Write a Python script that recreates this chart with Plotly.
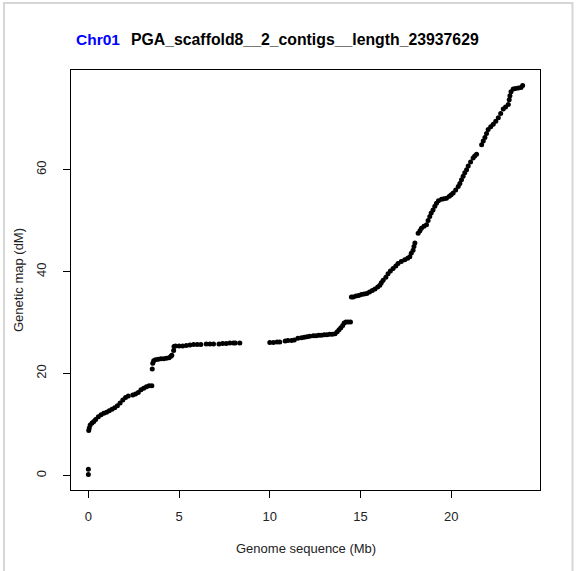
import plotly.graph_objects as go

# ---------------- data ----------------
pos_mb = [
    0.0, 0.0,
    0.02, 0.05, 0.1, 0.2, 0.3, 0.4, 0.55, 0.7, 0.85, 1.0, 1.15, 1.3, 1.45, 1.6, 1.75, 1.9,
    2.05, 2.2, 2.45, 2.6, 2.75, 2.9, 3.05, 3.2, 3.35, 3.5,
    3.52, 3.55, 3.6, 3.7, 3.85, 4.0, 4.15, 4.3, 4.45, 4.55, 4.6, 4.7, 4.72,
    4.8, 5.0, 5.2, 5.4, 5.6, 5.8, 6.0, 6.2, 6.5, 6.7, 6.9, 7.2, 7.4, 7.6, 7.8, 8.0, 8.1, 8.35,
    10.0, 10.2, 10.4, 10.55, 10.85, 11.0, 11.2, 11.35, 11.55, 11.75, 11.9, 12.05, 12.2, 12.4,
    12.55, 12.7, 12.85, 13.0, 13.15, 13.3, 13.45, 13.6, 13.72, 13.82, 13.92, 14.02, 14.1,
    14.2, 14.32, 14.45,
    14.5, 14.6, 14.75, 14.9, 15.05, 15.2, 15.35, 15.5, 15.65, 15.8, 15.95, 16.07, 16.15,
    16.25, 16.4, 16.52, 16.65, 16.8, 16.95, 17.07, 17.25, 17.44, 17.6, 17.72, 17.8, 17.9,
    17.95, 18.0,
    18.18, 18.28, 18.36, 18.5, 18.64, 18.73, 18.82, 18.9, 19.0, 19.1, 19.19, 19.3, 19.47,
    19.6, 19.74, 19.9, 20.0, 20.11, 20.25, 20.39, 20.48, 20.57, 20.66, 20.75, 20.85, 20.94,
    21.07, 21.21, 21.3, 21.4,
    21.68, 21.77, 21.86, 21.95, 22.04, 22.18, 22.32, 22.46, 22.6, 22.73, 22.87, 23.0, 23.15,
    23.2, 23.24, 23.3, 23.42, 23.55, 23.7, 23.85, 23.94,
]
map_cm = [
    0.2, 1.2,
    8.8, 9.3, 9.9, 10.3, 10.6, 11.0, 11.5, 11.9, 12.2, 12.4, 12.7, 13.0, 13.3, 13.7, 14.2, 14.8,
    15.3, 15.6, 15.8, 16.0, 16.3, 16.8, 17.1, 17.4, 17.6, 17.6,
    20.9, 22.0, 22.5, 22.7, 22.8, 22.9, 22.9, 23.0, 23.1, 23.4, 23.6, 24.5, 25.3,
    25.4, 25.4, 25.4, 25.5, 25.6, 25.7, 25.7, 25.7, 25.8, 25.8, 25.8, 25.8, 25.9, 25.9, 26.0, 26.0, 26.0, 26.0,
    26.1, 26.1, 26.2, 26.2, 26.4, 26.5, 26.5, 26.6, 26.9, 27.0, 27.1, 27.2, 27.3, 27.4,
    27.4, 27.5, 27.5, 27.6, 27.6, 27.7, 27.7, 27.8, 28.2, 28.6, 29.0, 29.4, 29.9,
    30.1, 30.1, 30.1,
    35.0, 35.0, 35.2, 35.3, 35.5, 35.6, 35.7, 36.0, 36.3, 36.6, 37.0, 37.3, 37.8,
    38.3, 38.9, 39.6, 40.1, 40.6, 41.1, 41.6, 42.0, 42.3, 42.6, 42.9, 43.6, 44.2,
    44.9, 45.6,
    47.5, 48.0, 48.5, 48.9, 49.2, 50.0, 50.8, 51.5, 52.1, 52.8, 53.4, 53.9, 54.2,
    54.3, 54.4, 54.8, 55.1, 55.4, 56.0, 56.7, 57.3, 58.0, 58.7, 59.4, 60.0, 60.7,
    61.5, 62.3, 62.7, 63.0,
    64.9, 65.6, 66.3, 67.1, 67.9, 68.4, 68.9, 69.5, 70.2, 71.0, 71.9, 72.3, 72.8,
    73.7, 74.5, 75.3, 75.8, 75.9, 76.0, 76.1, 76.5,
]
x_ticks = [0, 5, 10, 15, 20]
y_ticks = [0, 20, 40, 60]
chr_name = "Chr01"
scaffold_name = "PGA_scaffold8__2_contigs__length_23937629"
x_title = "Genome sequence (Mb)"
y_title = "Genetic map (dM)"

# ---------------- layout geometry ----------------
W, H = 576, 571
ML, MR, MT, MB = 71, 36, 70, 81
PW, PH = W - ML - MR, H - MT - MB
FONT = "Liberation Sans, Arial, sans-serif"


def px(xp):
    return (xp - ML) / PW


def py(yp):
    return (H - MB - yp) / PH


def padded(vals):
    lo, hi = min(vals), max(vals)
    d = (hi - lo) * 0.04
    return [lo - d, hi + d]


fig = go.Figure(
    go.Scatter(
        x=pos_mb, y=map_cm, mode="markers",
        marker=dict(color="black", size=5, line=dict(width=0)),
        hoverinfo="skip", showlegend=False,
    )
)

axis_common = dict(
    showline=True, mirror=True, linecolor="black", linewidth=1,
    ticks="outside", ticklen=7, tickwidth=1, tickcolor="black",
    showgrid=False, zeroline=False,
    tickfont=dict(family=FONT, size=13, color="#222"),
)

fig.update_xaxes(range=padded(pos_mb), tickvals=x_ticks, ticktext=[str(v) for v in x_ticks],
                 ticklabelstandoff=7, **axis_common)
fig.update_yaxes(range=padded(map_cm), tickvals=y_ticks, ticktext=[str(v) for v in y_ticks],
                 tickangle=-90, ticklabelstandoff=12, **axis_common)

annotations = [
    dict(text="<b>" + chr_name + "</b>", x=px(74), y=py(39), xref="paper", yref="paper",
         xanchor="left", yanchor="middle", showarrow=False,
         font=dict(family=FONT, size=15.5, color="#0000FF")),
    dict(text="<b>" + scaffold_name + "</b>", x=px(129), y=py(39), xref="paper", yref="paper",
         xanchor="left", yanchor="middle", showarrow=False,
         font=dict(family=FONT, size=15.8, color="black")),
    dict(text=x_title, x=0.5, y=py(548), xref="paper", yref="paper",
         xanchor="center", yanchor="middle", showarrow=False,
         font=dict(family=FONT, size=13, color="#222")),
    dict(text=y_title, x=px(18), y=0.5, xref="paper", yref="paper", textangle=-90,
         xanchor="center", yanchor="middle", showarrow=False,
         font=dict(family=FONT, size=13, color="#222")),
]

shapes = [
    dict(type="path", xref="paper", yref="paper",
         path=f"M {px(4)} {py(H + 5)} L {px(4)} {py(3)} L {px(572.5)} {py(3)} L {px(572.5)} {py(H + 5)}",
         line=dict(color="#d6d6d6", width=2)),
]

fig.update_layout(
    width=W, height=H, autosize=False,
    margin=dict(l=ML, r=MR, t=MT, b=MB, pad=0),
    paper_bgcolor="white", plot_bgcolor="white",
    annotations=annotations, shapes=shapes,
    font=dict(family=FONT),
)

fig.write_html("out.html")
